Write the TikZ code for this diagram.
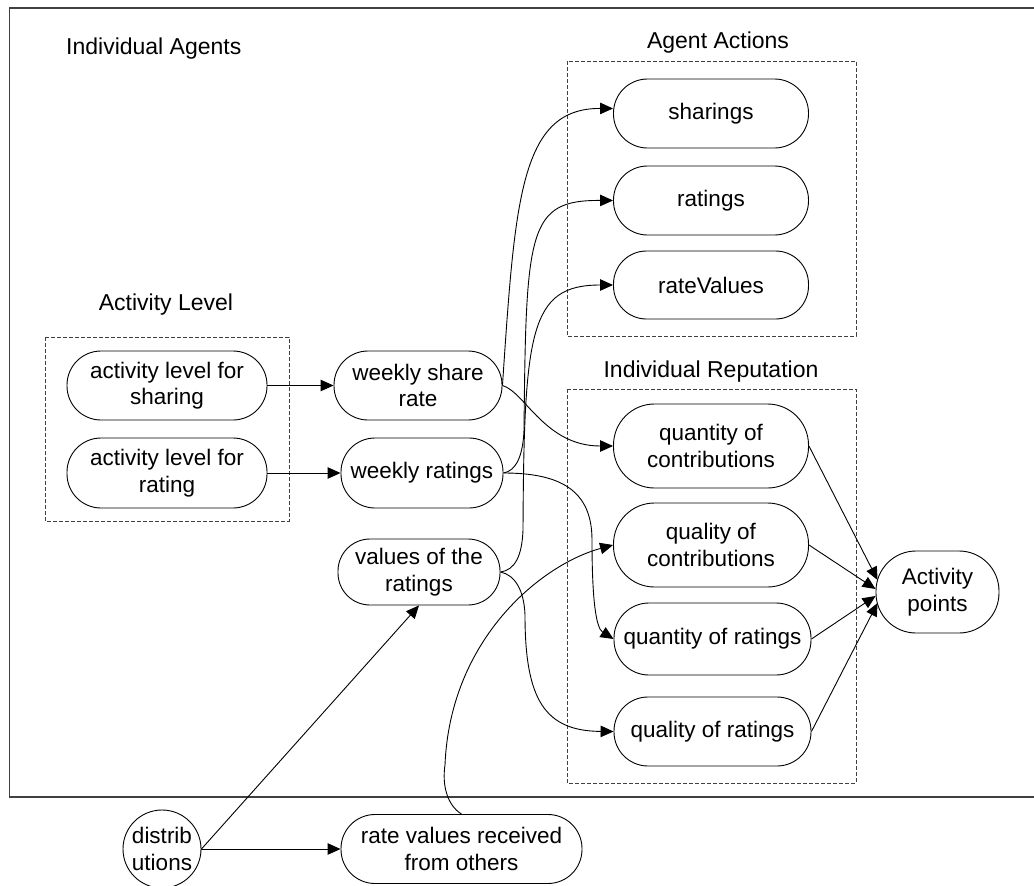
\documentclass[tikz,border=0pt]{standalone}
\usepackage{fontspec}
\setmainfont{Liberation Sans}
\usetikzlibrary{arrows.meta}
\begin{document}
\begin{tikzpicture}[x=1pt,y=-1pt,
  every node/.style={font=\fontsize{22.5}{26.5}\selectfont},
  title/.style={font=\fontsize{23}{27}\selectfont, inner sep=0pt},
  pill/.style n args={3}{draw, line width=0.9pt, rectangle, rounded corners=#3,
    minimum width=#1, minimum height=#2, inner sep=0pt, align=center},
  grp/.style={draw=black!75, line width=0.8pt, dash pattern=on 4pt off 2pt},
  conn/.style={line width=0.9pt, -{Triangle[length=13pt,width=11.5pt]}}
]
\useasboundingbox (0,0) rectangle (1034,886);

% frame around the individual agents
\draw[line width=1.2pt, draw=black!75] (1034,8) -- (9.5,8) -- (9.5,797) -- (1034,797);

% titles
\node[title, anchor=west] (tAgents) at (66,49) {Individual Agents};
\node[title] (tActions) at (718,43) {Agent Actions};
\node[title] (tLevel) at (166,305) {Activity Level};
\node[title] (tRep) at (711,372) {Individual Reputation};

% dashed groups
\draw[grp] (45,337) rectangle (289,521);
\draw[grp] (567,61) rectangle (856,336);
\draw[grp] (567,389) rectangle (856,783);

% activity level
\node[pill={200pt}{69pt}{34pt}] (als) at (167,385.5) {activity level for\\sharing};
\node[pill={200pt}{70pt}{34pt}] (alr) at (167,473) {activity level for\\rating};

% derived rates
\node[pill={168pt}{69pt}{34pt}] (wsr) at (418,385.5) {weekly share\\rate};
\node[pill={162pt}{70pt}{34pt}] (wr) at (422,473) {weekly ratings};
\node[pill={162pt}{66pt}{32pt}] (vr) at (419,572) {values of the\\ratings};

% agent actions
\node[pill={195pt}{69pt}{34pt}] (shr) at (711,113.5) {sharings};
\node[pill={195pt}{69pt}{34pt}] (rat) at (711,200.5) {ratings};
\node[pill={195pt}{68pt}{33pt}] (rv) at (711,285) {rateValues};

% individual reputation
\node[pill={195pt}{84pt}{41pt}] (qnc) at (711,446) {quantity of\\contributions};
\node[pill={195pt}{84pt}{41pt}] (qlc) at (711,545) {quality of\\contributions};
\node[pill={197pt}{72pt}{35pt}] (qnr) at (712.5,639) {quantity of ratings};
\node[pill={197pt}{69pt}{34pt}] (qlr) at (712.5,731.5) {quality of ratings};

\node[pill={123pt}{82pt}{40pt}] (ap) at (937.5,592) {Activity\\points};

% outside the frame
\node[draw, line width=0.9pt, circle, minimum size=78pt, inner sep=0pt, align=center] (dist) at (162,849) {distrib\\utions};
\node[pill={241pt}{69pt}{34pt}] (rvr) at (461.5,849) {rate values received\\from others};

% connectors
\draw[conn] (als.east) -- (wsr.west);
\draw[conn] (alr.east) -- (wr.west);
\draw[conn] (wsr.east) .. controls (515,200) and (520,108) .. ([yshift=5pt]shr.west);
\draw[conn] (wsr.east) .. controls (525,392) and (545,446) .. (qnc.west);
\draw[conn] (wr.east) .. controls (516,471) and (523,456) .. (524,430)
  .. controls (526,230) and (528,200) .. (rat.west);
\draw[conn] (vr.east) .. controls (515,570) and (522,556) .. (523,530)
  .. controls (524,330) and (530,285) .. (rv.west);
\draw[conn] (vr.east) .. controls (515,575) and (524,590) .. (525,615)
  .. controls (525,700) and (545,731) .. (qlr.west);
\draw[conn] (wr.east) .. controls (560,473) and (592,490) .. (592,540)
  .. controls (592,600) and (596,628) .. (qnr.west);
\draw[conn] (rvr.north) .. controls (447,805) and (442,785) .. (445,765)
  .. controls (450,640) and (540,565) .. (qlc.west);
\draw[conn] (dist.east) -- (vr.south);
\draw[conn] (dist.east) -- (rvr.west);

\draw[conn] (qnc.east) -- ([shift={(2,-12)}]ap.west);
\draw[conn] (qlc.east) -- ([shift={(0,-3)}]ap.west);
\draw[conn] (qnr.east) -- ([shift={(0,4)}]ap.west);
\draw[conn] (qlr.east) -- ([shift={(2,11)}]ap.west);
\end{tikzpicture}
\end{document}
